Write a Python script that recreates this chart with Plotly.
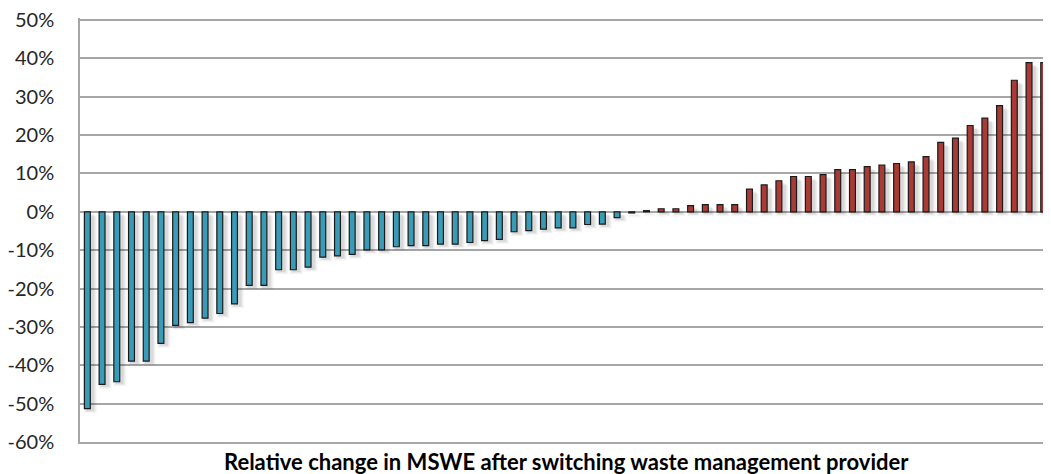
import plotly.graph_objects as go

# Data: relative change in MSWE per provider switch (sorted)
categories = list(range(1, 67))
changes = [
    -0.513, -0.450, -0.443, -0.389, -0.389, -0.343, -0.296, -0.289, -0.277, -0.265,
    -0.240, -0.192, -0.192, -0.151, -0.151, -0.144, -0.118, -0.115, -0.111, -0.099,
    -0.099, -0.091, -0.088, -0.088, -0.084, -0.084, -0.080, -0.075, -0.072, -0.052,
    -0.049, -0.045, -0.042, -0.042, -0.033, -0.032, -0.015, -0.003,
    0.003, 0.008, 0.008, 0.016, 0.019, 0.019, 0.019, 0.059, 0.070, 0.081,
    0.092, 0.092, 0.097, 0.110, 0.110, 0.118, 0.122, 0.126, 0.130, 0.144,
    0.181, 0.192, 0.225, 0.244, 0.277, 0.343, 0.389, 0.389,
]
tick_vals = [-0.6, -0.5, -0.4, -0.3, -0.2, -0.1, 0.0, 0.1, 0.2, 0.3, 0.4, 0.5]
tick_text = ["-60%", "-50%", "-40%", "-30%", "-20%", "-10%", "0%", "10%", "20%", "30%", "40%", "50%"]
x_title = "Relative change in MSWE after switching waste management provider"

BLUE = "#3a9bb6"
RED = "#a93b36"
colors = [BLUE if v < 0 else RED for v in changes]

fig = go.Figure()

# soft drop shadow (layered translucent bars offset right/down)
for w, op, b in [(0.95, 0.025, -0.012), (0.8, 0.035, -0.010), (0.66, 0.045, -0.008), (0.52, 0.055, -0.006)]:
    fig.add_trace(go.Bar(
        x=[c + 0.2 for c in categories], y=changes, base=b, width=w,
        marker=dict(color=f"rgba(0,0,0,{op})", line=dict(width=0)),
        hoverinfo="skip", showlegend=False,
    ))

fig.add_trace(go.Bar(
    x=categories, y=changes, width=0.4,
    marker=dict(color=colors, line=dict(color="#1a1a1a", width=1.2)),
    showlegend=False,
))

# page body adds an 8px offset; figure sized to stay inside the window
fig.update_layout(
    width=1035, height=466,
    margin=dict(l=72, r=0, t=10, b=32),
    paper_bgcolor="white", plot_bgcolor="white",
    barmode="overlay",
    font=dict(family="Lato, Open Sans, sans-serif", color="#262626"),
    xaxis=dict(
        range=[0.5, 65.95], showticklabels=False, showgrid=False, zeroline=False,
        showline=True, linecolor="#a6a6a6", linewidth=1.5, ticks="", automargin=False,
    ),
    yaxis=dict(
        range=[-0.6, 0.5052], tickvals=tick_vals, ticktext=tick_text,
        showgrid=True, gridcolor="#a6a6a6", gridwidth=1.5,
        zeroline=True, zerolinecolor="#a6a6a6", zerolinewidth=1.5,
        showline=True, linecolor="#a6a6a6", linewidth=1.5, automargin=False,
        ticks="", ticklabelstandoff=20, ticklabeloverflow="allow",
        tickfont=dict(size=20, color="#262626"),
    ),
    annotations=[dict(
        text=f"<b>{x_title}</b>", xref="paper", yref="paper",
        x=(558 - 72) / 963, y=0, yshift=-19, yanchor="middle", xanchor="center",
        showarrow=False, font=dict(size=22, color="#000000"),
    )],
)

fig.write_html("out.html")
